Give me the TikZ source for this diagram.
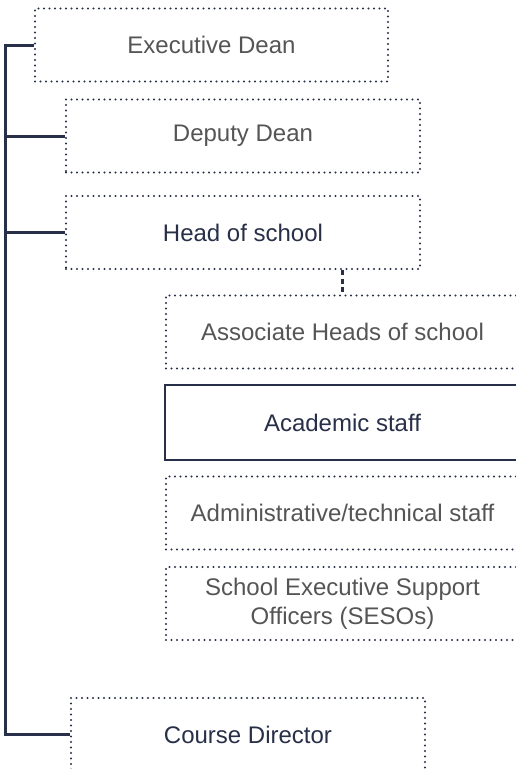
\documentclass[tikz,border=0pt]{standalone}
\usepackage{fontspec}
\setmainfont{Liberation Sans}
\usetikzlibrary{calc}
\definecolor{navy}{HTML}{283049}
\definecolor{greytext}{HTML}{555555}
\newcommand{\BoxH}{73pt}
\tikzset{Role/.style={
    inner sep=0pt,
    minimum height=\BoxH,
    draw=navy,
    line width=2.2pt,
    dash pattern=on 0pt off 5.5pt,
    line cap=round,
    align=center,
    text=greytext,
    font=\fontsize{24}{29}\selectfont,
    }
}

\begin{document}
\begin{tikzpicture}[x=1pt,y=-1pt,
    Main/.style={Role, text=navy},
    Staff/.style={Role, minimum width=353pt},
    Trunk/.style={draw=navy, line width=3pt, solid},
]
\clip (0,0) rectangle (516,769);
\fill[white] (0,0) rectangle (516,769);
% upper boxes
\node [Role, minimum width=353pt] (ed) at (211.5,45) {Executive Dean};
\node [Role, minimum width=354pt] (dd) at (243,136) {Deputy Dean};
\node [Main, minimum width=354pt] (hos) at (243,232.5) {Head of school};
% school staff
\node [Staff] (ahs) at (342.5,332) {Associate Heads of school};
\node [Staff, draw=none, text=navy] (acs) at (342.5,422.5) {Academic staff};
\draw [navy, line width=2.4pt] ($(acs.north east)+(10,0)$) -- (acs.north west)
    -- (acs.south west) -- ($(acs.south east)+(10,0)$);
\node [Staff] (ats) at (342.5,513) {Administrative/technical staff};
\node [Staff] (seso) at (342.5,603.5) {School Executive Support\\Officers (SESOs)};
\node [Main, minimum width=354pt] (cd) at (248,734.5) {Course Director};
% connectors
\coordinate (spine) at (5,0);
\draw [Trunk] (ed.west) -- (ed.west -| spine) |- (cd.west);
\draw [Trunk] (dd.west -| spine) -- (dd.west);
\draw [Trunk] (hos.west -| spine) -- (hos.west);
\draw [navy, line width=2.8pt, dash pattern=on 5pt off 3.5pt]
    (hos.south -| ahs.north) -- (ahs.north);
\end{tikzpicture}
\end{document}
